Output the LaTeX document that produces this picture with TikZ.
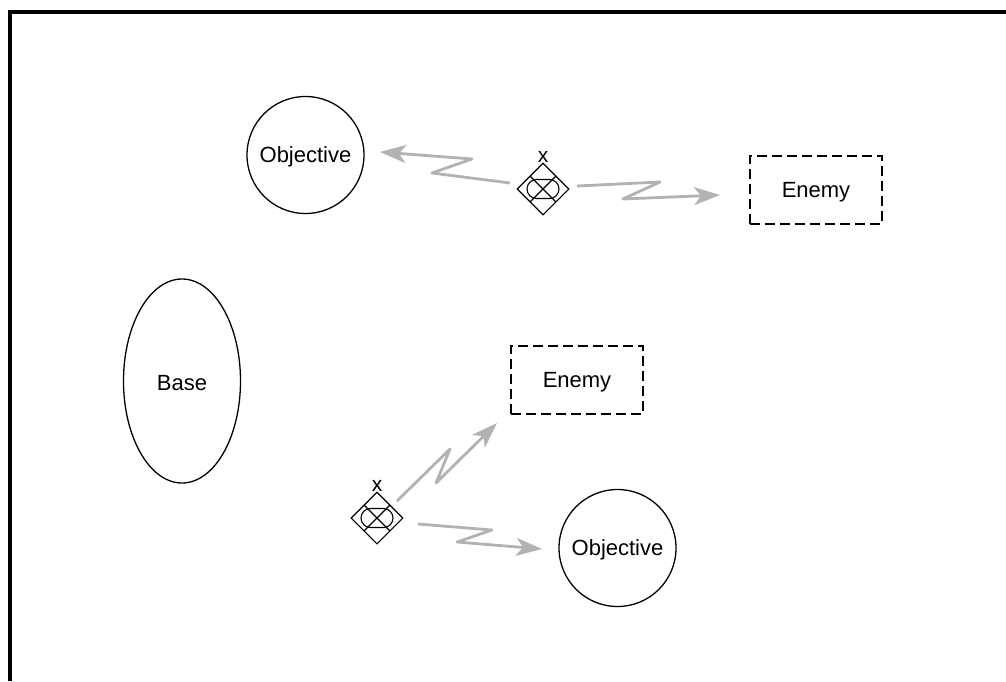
\documentclass[tikz,border=0pt]{standalone}
\usepackage{fontspec}
\setmainfont{Liberation Sans}
\usetikzlibrary{arrows.meta,shapes.geometric,shapes.misc}
\tikzset{
  x=1pt,y=-1pt,
  lettering/.style={inner sep=0pt,text height=15.75pt,text depth=0pt,font=\fontsize{22}{24}\selectfont},
  place/.style={draw=black,line width=1.3pt,ellipse,inner sep=0pt},
  foe/.style={draw=black,line width=1.8pt,dash pattern=on 10pt off 5pt,minimum width=132pt,minimum height=68pt,inner sep=0pt},
  mark diamond/.style={draw=black,line width=1.1pt,diamond,minimum width=52pt,minimum height=52pt,inner sep=0pt,
    label={[inner sep=0pt,yshift=0pt,font=\fontsize{21}{20}\selectfont]above:x}},
  pill/.style={draw=black,line width=1.1pt,rounded rectangle,minimum width=32pt,minimum height=19pt,inner sep=0pt},
  crossing/.style={draw=black,line width=1.1pt},
  zig/.style={draw=black!30,line width=2.8pt,line join=round,-{Stealth[length=26pt,width=18pt,inset=7pt]}},
  frame/.style={draw=black,line width=4pt}
}
\begin{document}
\begin{tikzpicture}
\useasboundingbox (0,0) rectangle (1006,681);
\draw[frame] (10,681) -- (10,12) -- (1006,12);
\node[place,minimum width=117pt,minimum height=117pt,label={[lettering]center:Objective}] (obj1) at (305.5,155) {};
\node[place,minimum width=117pt,minimum height=117pt,label={[lettering]center:Objective}] (obj2) at (617.5,548) {};
\node[place,minimum width=117pt,minimum height=204pt,label={[lettering,yshift=-2pt]center:Base}] (base) at (182,381) {};
\node[foe,label={[lettering]center:Enemy}] (foe1) at (816,190) {};
\node[foe,label={[lettering]center:Enemy}] (foe2) at (577,380) {};
\node[mark diamond] (d1) at (543,189) {};
\node[pill] (p1) at (d1) {};
\node[mark diamond] (d2) at (377,518) {};
\node[pill] (p2) at (d2) {};
\foreach \d in {d1,d2}{
  \draw[crossing] ([shift={(-13,-13)}]\d.center) -- ([shift={(13,13)}]\d.center);
  \draw[crossing] ([shift={(13,-13)}]\d.center) -- ([shift={(-13,13)}]\d.center);
}
\draw[zig] ([shift={(-33,-6)}]d1.center) -- ([shift={(-111,-16)}]d1.center) -- ([shift={(-71,-30)}]d1.center) -- ([shift={(74.5,-3)}]obj1.center);
\draw[zig] ([shift={(34,-3)}]d1.center) -- ([shift={(117,-7)}]d1.center) -- ([shift={(80,10)}]d1.center) -- ([shift={(-96,5)}]foe1.center);
\draw[zig] ([shift={(20,-17)}]d2.center) -- ([shift={(73,-69)}]d2.center) -- ([shift={(59,-35)}]d2.center) -- ([shift={(-80,43)}]foe2.center);
\draw[zig] ([shift={(41,6)}]d2.center) -- ([shift={(115,12)}]d2.center) -- ([shift={(80,24)}]d2.center) -- ([shift={(-75.5,1)}]obj2.center);
\end{tikzpicture}
\end{document}
